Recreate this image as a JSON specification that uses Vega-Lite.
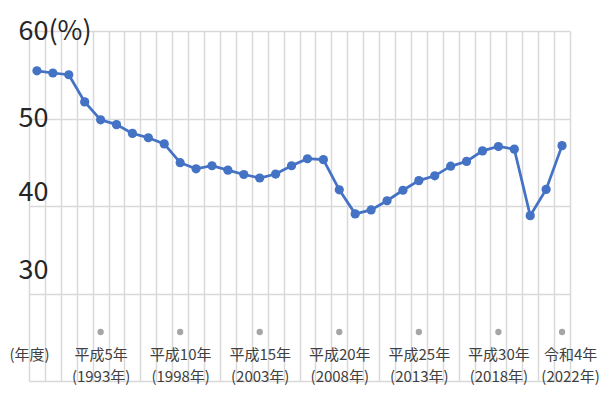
{
  "$schema": "https://vega.github.io/schema/vega-lite/v6.json",
  "autosize": {"type": "none"},
  "width": 541,
  "height": 350,
  "padding": {"left": 29, "top": 31, "right": 39, "bottom": 13},
  "background": "white",
  "config": {"view": {"stroke": null}},
  "datasets": {
    "rate": [
      {"year": 1989, "rate": 55.45},
      {"year": 1990, "rate": 55.2},
      {"year": 1991, "rate": 55.0},
      {"year": 1992, "rate": 51.9},
      {"year": 1993, "rate": 49.85},
      {"year": 1994, "rate": 49.3},
      {"year": 1995, "rate": 48.3},
      {"year": 1996, "rate": 47.8},
      {"year": 1997, "rate": 47.1},
      {"year": 1998, "rate": 44.95},
      {"year": 1999, "rate": 44.25},
      {"year": 2000, "rate": 44.6},
      {"year": 2001, "rate": 44.1},
      {"year": 2002, "rate": 43.6},
      {"year": 2003, "rate": 43.2},
      {"year": 2004, "rate": 43.65},
      {"year": 2005, "rate": 44.6},
      {"year": 2006, "rate": 45.4},
      {"year": 2007, "rate": 45.3},
      {"year": 2008, "rate": 41.85},
      {"year": 2009, "rate": 39.1},
      {"year": 2010, "rate": 39.55},
      {"year": 2011, "rate": 40.6},
      {"year": 2012, "rate": 41.8},
      {"year": 2013, "rate": 42.9},
      {"year": 2014, "rate": 43.45},
      {"year": 2015, "rate": 44.55},
      {"year": 2016, "rate": 45.1},
      {"year": 2017, "rate": 46.3},
      {"year": 2018, "rate": 46.8},
      {"year": 2019, "rate": 46.5},
      {"year": 2020, "rate": 38.9},
      {"year": 2021, "rate": 41.9},
      {"year": 2022, "rate": 46.9}
    ],
    "milestones": [
      {"year": 1993},
      {"year": 1998},
      {"year": 2003},
      {"year": 2008},
      {"year": 2013},
      {"year": 2018},
      {"year": 2022}
    ]
  },
  "resolve": {"axis": {"x": "independent"}},
  "layer": [
    {
      "data": {"name": "rate"},
      "mark": {"type": "line", "color": "#4472c4", "strokeWidth": 2.75},
      "encoding": {
        "x": {
          "field": "year",
          "type": "quantitative",
          "scale": {"domain": [1988.5, 2022.5], "nice": false, "zero": false},
          "axis": {
            "orient": "top",
            "values": [1988.5, 1989.5, 1990.5, 1991.5, 1992.5, 1993.5, 1994.5, 1995.5, 1996.5, 1997.5, 1998.5, 1999.5, 2000.5, 2001.5, 2002.5, 2003.5, 2004.5, 2005.5, 2006.5, 2007.5, 2008.5, 2009.5, 2010.5, 2011.5, 2012.5, 2013.5, 2014.5, 2015.5, 2016.5, 2017.5, 2018.5, 2019.5, 2020.5, 2021.5, 2022.5],
            "grid": true,
            "gridColor": "#d9d9d9",
            "gridWidth": 1.5,
            "labels": false,
            "ticks": false,
            "domain": false,
            "title": null
          }
        },
        "y": {
          "field": "rate",
          "type": "quantitative",
          "scale": {"domain": [20, 60], "nice": false, "zero": false},
          "axis": {
            "values": [20, 30, 40, 50, 60],
            "grid": true,
            "gridColor": "#d9d9d9",
            "gridWidth": 1.5,
            "ticks": false,
            "domain": false,
            "title": null,
            "labelExpr": "datum.value == 60 ? '60(%)' : datum.value == 20 ? '' : datum.label",
            "labelAlign": "left",
            "labelBaseline": "middle",
            "labelPadding": 11,
            "labelFont": "Noto Sans CJK JP",
            "labelFontSize": 27,
            "labelColor": "#262626",
            "labelOffset": {
              "condition": [
                {"test": "datum.value == 30", "value": -23},
                {"test": "datum.value == 40", "value": -14}
              ],
              "value": 0
            }
          }
        }
      }
    },
    {
      "data": {"name": "rate"},
      "mark": {"type": "point", "filled": true, "size": 85, "color": "#4472c4", "opacity": 1},
      "encoding": {
        "x": {"field": "year", "type": "quantitative", "axis": null},
        "y": {"field": "rate", "type": "quantitative"}
      }
    },
    {
      "data": {"name": "milestones"},
      "mark": {"type": "point", "filled": true, "size": 40, "color": "#a6a6a6", "opacity": 1},
      "encoding": {
        "x": {
          "field": "year",
          "type": "quantitative",
          "axis": {
            "orient": "bottom",
            "values": [1988.5, 1993, 1998, 2003, 2008, 2013, 2018, 2022],
            "grid": false,
            "ticks": false,
            "domain": false,
            "title": null,
            "labelFlush": false,
            "labelOverlap": false,
            "labelBound": false,
            "labelPadding": -34,
            "labelBaseline": "top",
            "labelAlign": "center",
            "labelFont": "Noto Sans CJK JP",
            "labelFontSize": 15,
            "labelLineHeight": 22,
            "labelColor": "#404040",
            "labelOffset": {"condition": {"test": "datum.value == 2022", "value": 8}, "value": 0},
            "labelExpr": "datum.value == 1988.5 ? '(年度)' : datum.value == 1993 ? ['平成5年', '(1993年)'] : datum.value == 1998 ? ['平成10年', '(1998年)'] : datum.value == 2003 ? ['平成15年', '(2003年)'] : datum.value == 2008 ? ['平成20年', '(2008年)'] : datum.value == 2013 ? ['平成25年', '(2013年)'] : datum.value == 2018 ? ['平成30年', '(2018年)'] : ['令和4年', '(2022年)']"
          }
        },
        "y": {"datum": 25.6, "type": "quantitative"}
      }
    }
  ]
}
